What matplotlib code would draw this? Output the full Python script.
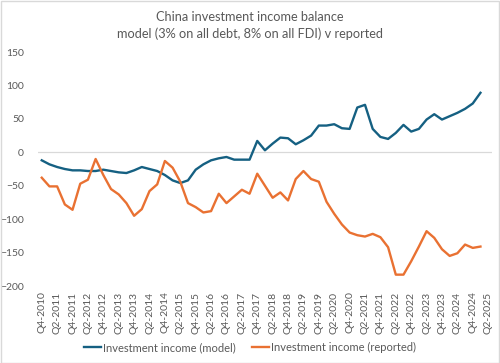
import matplotlib.pyplot as plt
import numpy as np

# Quarterly series, Q4-2010 .. Q1-2025 (USD bn)
start_q, start_y = 4, 2010
model = [-12, -18, -22, -25, -27, -27, -28, -28, -26, -28,
         -30, -31, -27, -22, -25, -28, -34, -42, -46, -42,
         -26, -18, -12, -9, -7, -11, -11, -11, 17, 3,
         13, 22, 21, 12, 18, 25, 40, 40, 42, 36,
         35, 67, 71, 35, 23, 20, 29, 41, 31, 35,
         49, 57, 49, 54, 59, 65, 73, 89]
reported = [-38, -51, -51, -78, -86, -47, -41, -10, -34, -55,
            -63, -76, -95, -85, -58, -48, -13, -23, -44, -76,
            -82, -90, -88, -62, -76, -66, -56, -62, -32, -50,
            -68, -60, -72, -40, -28, -40, -44, -74, -92, -108,
            -120, -124, -126, -122, -127, -142, -183, -183, -163, -141,
            -118, -128, -145, -155, -151, -138, -143, -141]

n_cat = len(model) + 1  # axis runs to Q2-2025
labels = []
q, y = start_q, start_y
for _ in range(n_cat):
    labels.append(f"Q{q}-{y}")
    q += 1
    if q > 4:
        q, y = 1, y + 1

plt.rcParams['font.family'] = ['Lato', 'DejaVu Sans']
txt = '#595959'
blue = '#156082'
orange = '#E97132'

fig = plt.figure(figsize=(5, 3.63), dpi=100)
ax = fig.add_axes([0.0758, 0.2121, 0.9082, 0.6446])

x = np.arange(len(model))
ax.plot(x, model, color=blue, lw=1.7, label='Investment income (model)')
ax.plot(x, reported, color=orange, lw=1.7, label='Investment income (reported)')
ax.axhline(0, color='#d9d9d9', lw=0.9, zorder=0)

ax.set_xlim(-0.5, n_cat - 0.5)
ax.set_ylim(-200, 150)
ax.set_yticks(range(-200, 151, 50))
ax.set_xticks(range(0, n_cat, 2))
ax.set_xticklabels(labels[::2], rotation=90)
ax.tick_params(axis='both', length=0, colors=txt, labelsize=7.5)
ax.tick_params(axis='y', pad=10)
ax.tick_params(axis='x', pad=4)
for s in ax.spines.values():
    s.set_visible(False)

fig.suptitle("China investment income balance\nmodel (3% on all debt, 8% on all FDI) v reported",
             y=0.97, fontsize=9.2, color=txt, linespacing=1.4)
fig.legend(loc='lower center', bbox_to_anchor=(0.5, 0.0), ncol=2, frameon=False,
           fontsize=8, labelcolor=txt, handlelength=1.5, handletextpad=0.15,
           columnspacing=1.5)

fig.patches.append(plt.Rectangle((0.001, 0.001), 0.997, 0.997, transform=fig.transFigure,
                                 fill=False, edgecolor='#d9d9d9', lw=1))

fig.savefig('out.png', dpi=100)
